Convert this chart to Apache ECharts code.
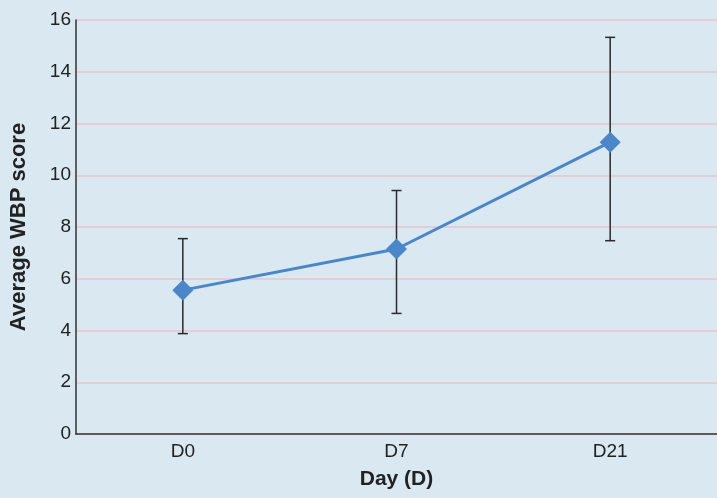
<!DOCTYPE html>
<html><head><meta charset="utf-8">
<script src="https://cdn.jsdelivr.net/npm/echarts@6/dist/echarts.min.js"></script>
<style>html,body{margin:0;padding:0;background:#d9e8f1;}#c{width:717px;height:498px;}</style>
</head><body><div id="c"></div>
<script>
const categories = ['D0', 'D7', 'D21'];
const means = [5.56, 7.15, 11.28];
const upper = [7.55, 9.41, 15.33];
const lower = [3.88, 4.66, 7.47];
const yTicks = [0, 2, 4, 6, 8, 10, 12, 14, 16];

const chart = echarts.init(document.getElementById('c'));
const font = 'Liberation Sans, Arial, sans-serif';
chart.setOption({
  backgroundColor: '#d9e8f1',
  animation: false,
  grid: { left: 75, right: 0, top: 20, bottom: 64 },
  xAxis: {
    type: 'category', data: categories,
    name: 'Day (D)', nameLocation: 'middle', nameGap: 35,
    nameTextStyle: { fontFamily: font, fontWeight: 'bold', fontSize: 21, color: '#222' },
    axisLine: { lineStyle: { color: '#333', width: 1.5 } },
    axisTick: { show: false },
    axisLabel: { fontFamily: font, fontSize: 19, color: '#222', margin: 8 }
  },
  yAxis: {
    type: 'value', min: yTicks[0], max: yTicks[yTicks.length - 1], interval: 2,
    name: 'Average WBP score', nameLocation: 'middle', nameGap: 46,
    nameTextStyle: { fontFamily: font, fontWeight: 'bold', fontSize: 22, color: '#222' },
    axisLine: { show: true, lineStyle: { color: '#333', width: 1.5 } },
    axisTick: { show: false },
    axisLabel: { fontFamily: font, fontSize: 19, color: '#222', margin: 5 },
    splitLine: { lineStyle: { color: '#e8c4cf', width: 1.5 } }
  },
  series: [
    {
      type: 'custom',
      data: categories.map((c, i) => [i, lower[i], upper[i]]),
      z: 1,
      renderItem: function (params, api) {
        const x = api.value(0);
        const lo = api.coord([x, api.value(1)]);
        const hi = api.coord([x, api.value(2)]);
        const hw = 5;
        const style = { stroke: '#2a2a2a', lineWidth: 1.5 };
        return {
          type: 'group',
          children: [
            { type: 'line', shape: { x1: hi[0], y1: hi[1], x2: lo[0], y2: lo[1] }, style },
            { type: 'line', shape: { x1: hi[0] - hw, y1: hi[1], x2: hi[0] + hw, y2: hi[1] }, style },
            { type: 'line', shape: { x1: lo[0] - hw, y1: lo[1], x2: lo[0] + hw, y2: lo[1] }, style }
          ]
        };
      }
    },
    {
      type: 'line', data: means, z: 3,
      symbol: 'diamond', symbolSize: 21,
      lineStyle: { color: '#4a86c8', width: 3 },
      itemStyle: { color: '#4a86c8' }
    }
  ]
});
</script></body></html>
